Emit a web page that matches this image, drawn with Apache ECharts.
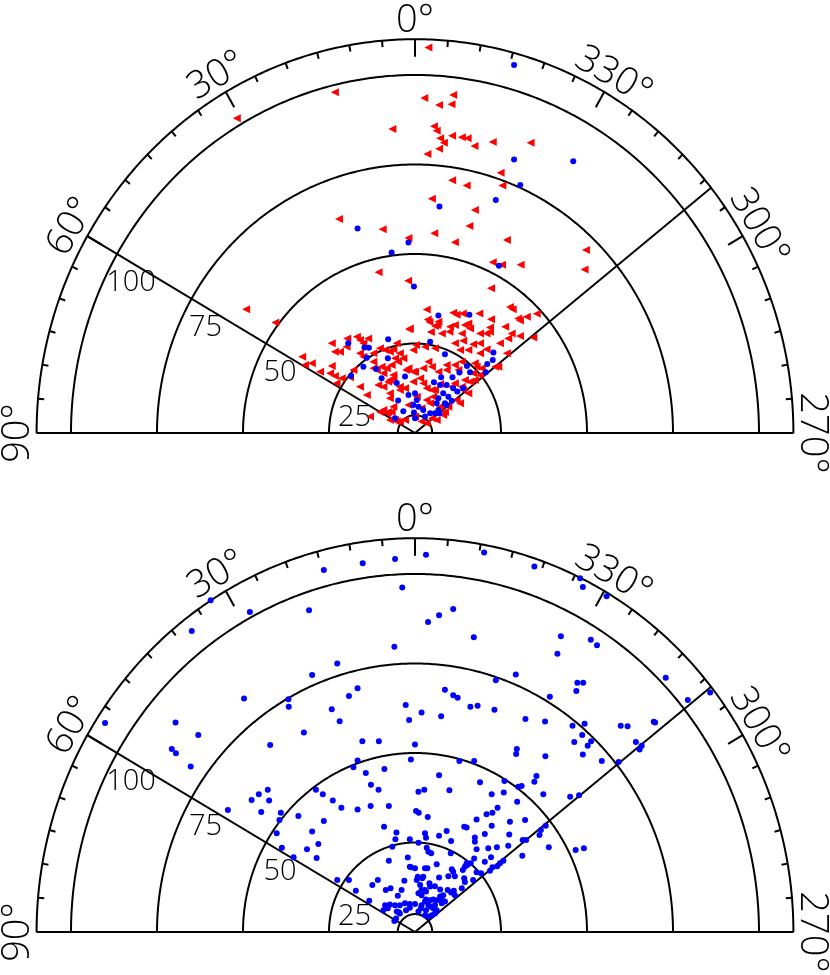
<!DOCTYPE html>
<html>
<head>
<meta charset="utf-8">
<title>Polar scatter</title>
<script src="https://cdn.jsdelivr.net/npm/echarts@6/dist/echarts.min.js"></script>
<style>
  html, body { margin: 0; padding: 0; background: #fff; }
  #chart { width: 830px; height: 975px; }
</style>
</head>
<body>
<div id="chart"></div>
<script>
// frame: rings, spokes, labels
const rMax = 110;
const ringRadii = [5, 25, 50, 75, 100, 110];
const radialLabels = [25, 50, 75, 100];
const angleLabels = [0, 30, 60, 90, 270, 300, 330];
const spokeAngles = [60, 308.5];
const FONT = "'Open Sans', 'Liberation Sans', sans-serif";

// points as [x, y] in radius units (x to the right, y up)
const topRed = [
  [3.9,107.7],[-23.3,95.2],[-51.8,87.9],[2.7,93.6],[11.1,94.4],[7.0,91.6],[10.6,91.8],[-6.6,84.9],[5.5,85.7],[6.3,84.4],
  [7.3,82.3],[8.4,81.1],[10.8,83.0],[13.6,82.6],[15.3,82.3],[17.3,80.2],[7.0,79.4],[3.6,77.9],[22.6,81.3],[33.6,81.1],
  [24.9,72.7],[10.8,70.6],[15.0,69.1],[25.4,69.1],[4.9,65.4],[17.4,62.3],[-22.1,59.8],[-9.4,56.9],[15.8,57.8],[5.6,55.8],
  [-1.9,54.5],[11.6,53.3],[26.7,53.9],[49.7,51.1],[22.6,47.7],[25.3,47.0],[30.7,47.0],[49.3,45.7],[-2.0,42.5],[22.1,40.4],
  [-10.6,44.9],[-49.1,34.6],[-40.6,30.9],[-1.7,29.0],
  [3.4,34.5],[11.1,33.6],[12.1,33.0],[13.9,33.4],[18.7,33.4],[27.6,35.2],[28.4,34.6],[35.4,33.3],[32.5,32.5],[30.0,32.0],
  [30.5,31.4],[22.1,31.8],[3.7,31.7],[4.2,31.0],[6.5,30.2],[6.8,31.1],[11.6,30.2],[14.5,30.2],[15.5,30.6],[16.0,29.2],
  [-1.5,29.2],[5.8,29.9],[10.2,29.7],[21.8,29.5],[26.2,29.7],[4.6,28.2],[7.8,27.8],[10.0,28.3],[13.6,27.8],[18.9,27.8],
  [20.8,27.8],[21.8,28.3],[28.1,27.8],[30.5,27.1],[34.4,26.7],[27.1,26.4],[14.0,25.8],[16.9,24.8],[20.8,23.4],[26.7,22.3],
  [23.3,18.5],[19.4,18.1],[-5.3,25.1],[-0.5,23.2],[0.3,24.6],[2.9,24.1],[5.8,23.7],[11.6,25.1],[13.1,23.2],[15.5,23.2],
  [18.9,25.1],[18.9,22.3],[24.7,25.1],[24.2,18.5],[-8.7,23.2],[-7.3,22.7],[-4.4,22.3],[-3.4,20.9],[-5.8,20.9],[-9.7,18.5],
  [-6.8,19.0],[-1.9,18.1],[-0.5,17.1],[2.4,18.1],[3.9,19.9],[6.8,17.1],[9.2,17.6],[11.6,19.0],[13.6,19.9],[17.4,19.5],
  [17.9,18.5],[17.4,14.8],[18.9,16.2],[14.5,14.8],[16.9,16.7],[-6.3,16.2],[-7.3,14.8],[-4.4,12.9],[-2.9,12.5],[-0.5,14.3],
  [1.5,15.3],[2.4,13.9],[3.4,12.5],[4.9,12.0],[5.3,10.1],[7.3,13.7],[11.6,13.9],[13.6,12.9],[15.5,11.1],[14.0,12.0],
  [12.1,9.2],[13.1,8.3],[9.7,7.3],[-7.3,11.1],[-9.2,6.4],[-7.8,5.9],[-6.3,7.3],[-1.9,7.8],[3.4,9.2],[4.4,8.3],
  [1.9,6.9],[6.3,3.6],[8.2,5.0],[8.7,5.9],[1.9,3.2],[3.4,2.7],[-4.4,3.2],[-2.9,3.6],[-7.3,3.6],[-10.2,5.9],
  [-8.2,5.5],[-13.1,4.6],[-5.3,3.2],[-14.0,10.6],[-16.0,12.9],[-10.7,13.4],[-9.2,12.9],[-7.8,14.3],[-9.2,16.7],[-12.1,18.1],
  [-4.9,19.9],[-2.6,17.6],[0,17.1],[4.9,18.5],[9.2,19.0],[12.6,17.6],[-6.3,15.3],[-4.4,12.0],[5.8,12.0],[10.7,12.9],
  [16.0,14.3],[0.5,10.1],[-5.8,3.6],[7.3,7.3],[0,4.6],[4.9,4.1],[-24.2,25.1],[-19.7,26.4],[-16.9,26.9],[-16.0,26.0],
  [-15.0,25.1],[-13.6,26.4],[-19.9,24.1],[-23.3,22.7],[-21.8,22.7],[-16.0,22.3],[-15.0,21.3],[-12.1,22.3],[-10.2,23.7],[-6.3,23.4],
  [-32.8,21.3],[-30.0,19.5],[-32.0,19.0],[-27.6,17.1],[-24.7,16.7],[-23.3,15.9],[-24.2,18.7],[-21.3,15.3],[-18.9,15.6],[-17.9,17.6],
  [-22.8,13.9],[-12.1,19.9],[-8.2,18.1],[-11.1,17.6],[-7.3,9.7],[-6.8,5.9]
];

const topBlue = [
  [28.8,102.8],[28.8,76.4],[46.0,75.9],[30.6,69.3],[23.5,65.1],[7.1,63.3],[-16.7,57.1],[-1.9,53.2],[-6.8,50.4],[24.4,46.7],
  [-0.3,40.9],[6.8,32.8],[15.8,33.0],[-7.8,26.2],[-19.4,25.1],[-14.7,23.9],[-13.4,23.8],[4.4,25.5],[8.7,22.0],[-7.9,20.9],
  [-14.0,21.0],[-15.0,18.5],[-11.3,17.9],[-18.6,15.9],[-9.7,15.3],[-2.9,15.8],[-5.3,14.0],[22.8,22.5],[22.6,20.4],[21.0,19.3],
  [20.6,17.0],[15.1,18.7],[16.0,17.0],[12.9,16.9],[10.9,15.6],[7.6,15.6],[5.5,14.2],[7.3,13.4],[9.2,13.4],[11.1,12.5],
  [14.0,12.5],[12.3,11.6],[9.7,10.1],[6.8,9.7],[8.7,8.3],[6.3,8.3],[6.8,6.4],[9.2,7.8],[-1.9,10.6],[0,11.1],
  [0.5,9.2],[-0.5,7.8],[1.0,7.3],[-4.9,9.1],[-3.4,6.1],[-0.3,5.7],[2.9,4.6],[4.4,5.5],[5.8,5.5],[7.1,5.5],
  [2.4,6.4],[-5.8,4.1],[0,4.1],[8.2,11.1],[10.7,9.0]
];

const bottomBlue = [
  [-5.8,104.2],[-15.2,103.0],[-26.5,101.1],[-3.7,96.2],[-59.4,92.7],[-48.0,89.4],[-30.8,89.9],[-64.9,84.1],[-6.0,79.7],[-22.6,75.0],
  [-29.9,71.8],[-16.7,68.1],[-19.2,65.9],[-49.7,65.2],[-36.8,65.0],[-36.7,62.9],[-24.2,62.2],[-2.7,63.4],[-1.7,59.2],[-21.9,58.9],
  [-90.1,58.4],[-69.6,58.5],[-63.0,55.0],[-32.3,55.7],[-15.3,53.3],[-10.5,53.3],[0,52.4],[-42.1,52.2],[-70.7,51.1],[-69.5,49.9],
  [-65.2,46.2],[-1.2,48.2],[-16.7,47.9],[-17.9,46.0],[-8.9,45.5],[-14.3,44.4],[-28.8,39.7],[-26.8,38.5],[-12.8,41.1],[-10.6,39.7],
  [-42.8,39.7],[-45.4,38.5],[-47.5,36.9],[-42.4,36.7],[-54.4,34.1],[-23.9,36.7],[-21.4,34.7],[-16.7,34.2],[-12.9,35.2],[-7.6,35.2],
  [-44.7,33.5],[-39.0,33.3],[-39.4,31.3],[-33.9,32.4],[-26.5,31.0],[-9.0,29.4],[-5.4,27.8],[-5.7,25.9],[-1.5,25.9],[-29.9,28.1],
  [-40.2,27.6],[-28.1,24.6],[-38.7,23.5],[-31.4,23.1],[-35.3,20.9],[-28.6,20.7],[-6.6,23.8],[-2.1,20.8],[-1.2,18.1],[-7.6,19.9],
  [-22.6,14.5],[-19.2,14.5],[-10.8,14.5],[-12.4,13.1],[-17.2,11.5],[-3.1,14.3],[-8.5,11.7],[-7.1,12.2],[-5.0,10.1],[-13.3,8.7],
  [-8.7,7.5],[-7.3,7.7],[-5.8,7.5],[-4.4,7.5],[-2.9,8.0],[-1.5,7.8],[-9.2,6.1],[-7.9,6.6],[-5.3,5.7],[-4.4,5.2],
  [-2.6,6.1],[-6.0,3.1],[0.3,33.8],[1.1,33.3],[1.0,39.2],
  [3.2,105.4],[20.1,106.0],[34.7,102.1],[48.0,98.8],[48.8,96.4],[55.7,93.8],[11.1,90.2],[7.0,88.5],[3.8,86.6],[17.1,82.3],
  [42.4,82.6],[51.1,81.6],[52.9,80.1],[41.4,77.7],[29.3,71.9],[23.5,70.3],[47.2,69.6],[48.9,69.6],[46.9,67.3],[72.9,71.0],
  [85.8,66.9],[79.3,64.8],[8.7,67.7],[11.1,66.1],[12.4,65.4],[39.2,65.7],[16.1,62.9],[18.2,63.2],[23.1,62.1],[1.9,61.3],
  [7.6,60.3],[32.1,59.5],[37.8,58.8],[45.8,57.6],[49.3,58.2],[59.8,57.6],[61.8,57.5],[69.4,58.7],[69.8,58.5],[48.6,55.0],
  [51.2,53.3],[50.2,52.0],[46.3,53.1],[48.8,49.6],[64.2,53.1],[65.9,52.0],[65.3,51.0],[29.6,51.1],[29.4,49.7],[37.9,49.1],
  [54.3,47.8],[59.2,47.5],[12.9,47.8],[17.2,47.8],[7.0,43.8],[18.9,41.8],[26.0,42.2],[35.3,43.6],[34.7,42.0],[30.0,40.6],
  [31.0,40.8],[37.3,38.5],[45.1,37.8],[47.7,38.2],[2.7,39.7],[10.0,39.6],[22.3,38.5],[25.8,39.0],[29.7,36.4],[20.8,32.9],
  [22.5,33.3],[24.0,34.7],[3.7,32.1],[17.9,31.4],[27.6,30.8],[32.0,31.3],[38.0,29.7],[14.3,29.4],[15.0,29.2],[9.2,28.2],
  [2.9,27.6],[3.2,26.3],[7.0,26.9],[20.3,27.4],[10.5,25.4],[17.4,26.4],[17.4,25.2],[27.4,27.2],[31.3,25.7],[32.3,25.7],
  [36.2,27.1],[36.6,28.5],[38.9,23.7],[46.7,22.9],[49.1,23.4],[1.0,24.9],[3.4,23.5],[3.9,22.4],[10.4,22.0],[17.9,23.1],
  [21.3,23.4],[22.1,20.9],[20.3,19.6],[23.8,23.7],[27.1,24.1],[17.2,20.5],[6.3,18.9],[2.9,17.8],[3.6,17.8],[31.2,21.3],
  [25.7,19.9],[24.7,19.2],[23.9,18.4],[22.5,18.1],[15.0,19.2],[10.7,17.5],[0.8,15.4],[2.1,15.0],[7.0,15.2],[9.7,15.6],
  [11.6,15.6],[14.3,15.0],[17.9,16.7],[16.9,14.5],[21.8,17.1],[19.2,16.4],[4.4,12.7],[2.9,11.7],[1.0,10.8],[9.5,11.7],
  [10.5,11.0],[11.6,10.3],[13.6,12.2],[7.3,9.9],[7.8,8.9],[1.9,10.3],[3.2,9.1],[3.9,7.5],[5.3,6.6],[6.3,6.1],
  [5.8,5.2],[8.7,8.5],[1.9,7.5],[1.0,5.7],[4.9,4.7],
  [22.3,29.7],[4.7,22.0],[-1.5,18.2],[0,17.8],[2.4,15.4],[0.5,14.5],[11.1,16.8],[13.9,17.3],[14.5,18.2],[15.2,18.7],
  [16.2,19.2],[14.5,14.0],[-3.9,11.7],[1.5,13.1],[1.9,11.7],[3.2,11.3],[4.2,13.6],[5.8,12.8],[7.3,11.9],[11.3,11.5],
  [8.2,10.3],[-4.7,5.5],[-1.5,6.8],[0,7.8],[2.9,8.5],[4.4,8.9],[5.3,9.1],[6.3,8.9],[1.7,6.6],[3.2,6.1],
  [4.4,7.1],[5.8,7.5],[2.9,4.7],[3.9,4.3],[7.8,8.0],[-5.5,3.8]
];

// angle measured from the top, counterclockwise (90 = left, 270 = right)
function toXY(deg, r) {
  const a = deg * Math.PI / 180;
  return [-r * Math.sin(a), r * Math.cos(a)];
}

function seg(p, q) {
  return { type: 'line', shape: { x1: p[0], y1: p[1], x2: q[0], y2: q[1] }, style: { stroke: '#000', lineWidth: 2 } };
}

function renderFrame(params, api) {
  const kids = [];
  ringRadii.forEach(function (r) {
    const pts = [];
    for (let a = 90; a >= -90; a -= 0.5) pts.push(api.coord(toXY(a, r)));
    kids.push({ type: 'polyline', shape: { points: pts }, style: { stroke: '#000', lineWidth: 2, fill: null } });
  });
  kids.push(seg(api.coord([-rMax, 0]), api.coord([rMax, 0])));
  spokeAngles.forEach(function (a) {
    kids.push(seg(api.coord([0, 0]), api.coord(toXY(a, rMax))));
  });
  // 5 degree ticks, longer every 30
  for (let a = -90; a <= 90; a += 5) {
    const len = a % 30 === 0 ? 4.9 : 1.8;
    kids.push(seg(api.coord(toXY(a, rMax)), api.coord(toXY(a, rMax - len))));
  }
  angleLabels.forEach(function (deg) {
    const p = api.coord(toXY(deg, rMax));
    const a = deg * Math.PI / 180;
    kids.push({
      type: 'text',
      x: p[0] - Math.sin(a) * 18.5,
      y: p[1] - Math.cos(a) * 18.5,
      rotation: a,
      style: {
        text: deg + '°', fontSize: 38, fontFamily: FONT, fontWeight: 300, fill: '#000',
        align: 'center', verticalAlign: 'middle', textAlign: 'center', textVerticalAlign: 'middle'
      }
    });
  });
  radialLabels.forEach(function (r) {
    const p = api.coord(toXY(spokeAngles[0], r));
    kids.push({
      type: 'text',
      x: p[0] + 14,
      y: p[1] + 29,
      style: {
        text: String(r), fontSize: 29, fontFamily: FONT, fontWeight: 300, fill: '#000',
        align: 'center', verticalAlign: 'middle', textAlign: 'center', textVerticalAlign: 'middle'
      }
    });
  });
  return { type: 'group', children: kids };
}

const chart = echarts.init(document.getElementById('chart'), null, { renderer: 'canvas' });

const frameSeries = [0, 1].map(function (i) {
  return {
    type: 'custom', xAxisIndex: i, yAxisIndex: i, data: [[0, 0]],
    renderItem: renderFrame, clip: false, silent: true, z: 1
  };
});

chart.setOption({
  backgroundColor: '#fff',
  animation: false,
  grid: [
    { left: 36.6, top: 39.2, width: 756.8, height: 393.8 },
    { left: 36.6, top: 538.2, width: 756.8, height: 393.8 }
  ],
  xAxis: [0, 1].map(function (i) {
    return { type: 'value', gridIndex: i, min: -rMax, max: rMax, show: false };
  }),
  yAxis: [0, 1].map(function (i) {
    return { type: 'value', gridIndex: i, min: 0, max: rMax, show: false };
  }),
  series: frameSeries.concat([
    {
      type: 'scatter', xAxisIndex: 0, yAxisIndex: 0, data: topRed,
      symbol: 'triangle', symbolRotate: 90, symbolSize: 8,
      itemStyle: { color: '#ff0000', opacity: 1 }, z: 2
    },
    {
      type: 'scatter', xAxisIndex: 0, yAxisIndex: 0, data: topBlue,
      symbol: 'circle', symbolSize: 6,
      itemStyle: { color: '#0000ff', opacity: 1 }, z: 3
    },
    {
      type: 'scatter', xAxisIndex: 1, yAxisIndex: 1, data: bottomBlue,
      symbol: 'circle', symbolSize: 6,
      itemStyle: { color: '#0000ff', opacity: 1 }, z: 3
    }
  ])
});
</script>
</body>
</html>
